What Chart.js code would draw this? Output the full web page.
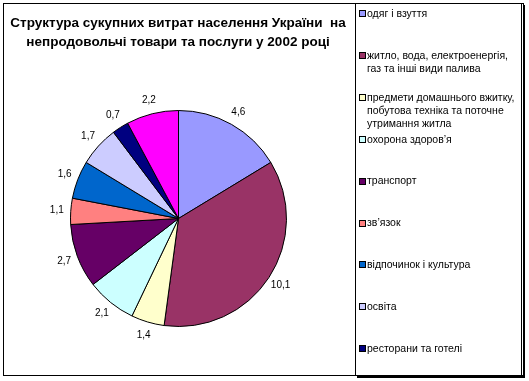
<!DOCTYPE html>
<html>
<head>
<meta charset="utf-8">
<script src="https://cdn.jsdelivr.net/npm/chart.js@4/dist/chart.umd.min.js"></script>
<style>
html,body{margin:0;padding:0;background:#fff;}
#wrap{position:relative;width:529px;height:381px;}
</style>
</head>
<body>
<div id="wrap"><canvas id="c" width="529" height="381"></canvas></div>
<script>
const titleLines = ["Структура сукупних витрат населення України  на", "непродовольчі товари та послуги у 2002 році"];
const categories = [
  ["одяг і взуття"],
  ["житло, вода, електроенергія,", "газ та інші види палива"],
  ["предмети домашнього вжитку,", "побутова техніка та поточне", "утримання житла"],
  ["охорона здоров’я"],
  ["транспорт"],
  ["зв’язок"],
  ["відпочинок і культура"],
  ["освіта"],
  ["ресторани та готелі"],
  ["інше"]
];
const values = [4.6, 10.1, 1.4, 2.1, 2.7, 1.1, 1.6, 1.7, 0.7, 2.2];
const colors = ["#9999FF", "#993366", "#FFFFCC", "#CCFFFF", "#660066", "#FF8080", "#0066CC", "#CCCCFF", "#000080", "#FF00FF"];

const FONT = "'Liberation Sans', Arial, sans-serif";

const decor = {
  id: 'decor',
  beforeDraw(chart) {
    const ctx = chart.ctx;
    ctx.save();
    ctx.fillStyle = '#fff';
    ctx.fillRect(0, 0, chart.width, chart.height);
    ctx.restore();
  },
  afterDraw(chart) {
    const ctx = chart.ctx;
    ctx.save();
    // outer frame
    ctx.strokeStyle = '#000';
    ctx.lineWidth = 1;
    ctx.strokeRect(3.5, 3.5, 520, 372);
    // legend box
    ctx.strokeRect(355.5, 3.5, 166, 372);
    ctx.lineWidth = 2;
    ctx.beginPath();
    ctx.moveTo(524, 5); ctx.lineTo(524, 378);
    ctx.moveTo(357, 377); ctx.lineTo(525, 377);
    ctx.stroke();
    // title
    ctx.fillStyle = '#000';
    ctx.font = "bold 13.5px " + FONT;
    ctx.textAlign = 'center';
    ctx.textBaseline = 'middle';
    ctx.fillText(titleLines[0], 178, 23);
    ctx.fillText(titleLines[1], 178, 42);
    // legend
    ctx.font = "10.5px " + FONT;
    ctx.textAlign = 'left';
    const meta = chart.getDatasetMeta(0);
    categories.forEach((lines, i) => {
      const y = 14 + i * 41.9;
      ctx.fillStyle = colors[i];
      ctx.fillRect(359, Math.round(y) - 3, 6, 6);
      ctx.strokeStyle = '#000';
      ctx.lineWidth = 1;
      ctx.strokeRect(359.5, Math.round(y) - 3.5, 6, 6);
      ctx.fillStyle = '#000';
      lines.forEach((t, j) => ctx.fillText(t, 367, y + j * 13));
    });
    // data labels
    ctx.font = "10px " + FONT;
    ctx.textAlign = 'center';
    meta.data.forEach((arc, i) => {
      const p = arc.getProps(['x', 'y', 'startAngle', 'endAngle', 'outerRadius']);
      const mid = (p.startAngle + p.endAngle) / 2;
      const d = p.outerRadius + 14;
      const x = p.x + Math.cos(mid) * d;
      const y = p.y + Math.sin(mid) * d;
      ctx.fillStyle = '#000';
      ctx.fillText(values[i].toFixed(1).replace('.', ','), x, y);
    });
    ctx.restore();
  }
};

new Chart(document.getElementById('c'), {
  type: 'pie',
  data: {
    labels: categories.map(l => l.join(' ')),
    datasets: [{
      data: values,
      backgroundColor: colors,
      borderColor: '#000',
      borderWidth: 1,
      hoverOffset: 0,
      offset: 0
    }]
  },
  options: {
    responsive: false,
    animation: false,
    devicePixelRatio: 1,
    layout: { padding: { left: 70, right: 242, top: 110, bottom: 54 } },
    plugins: { legend: { display: false }, title: { display: false }, tooltip: { enabled: false } },
    events: []
  },
  plugins: [decor]
});
</script>
</body>
</html>
